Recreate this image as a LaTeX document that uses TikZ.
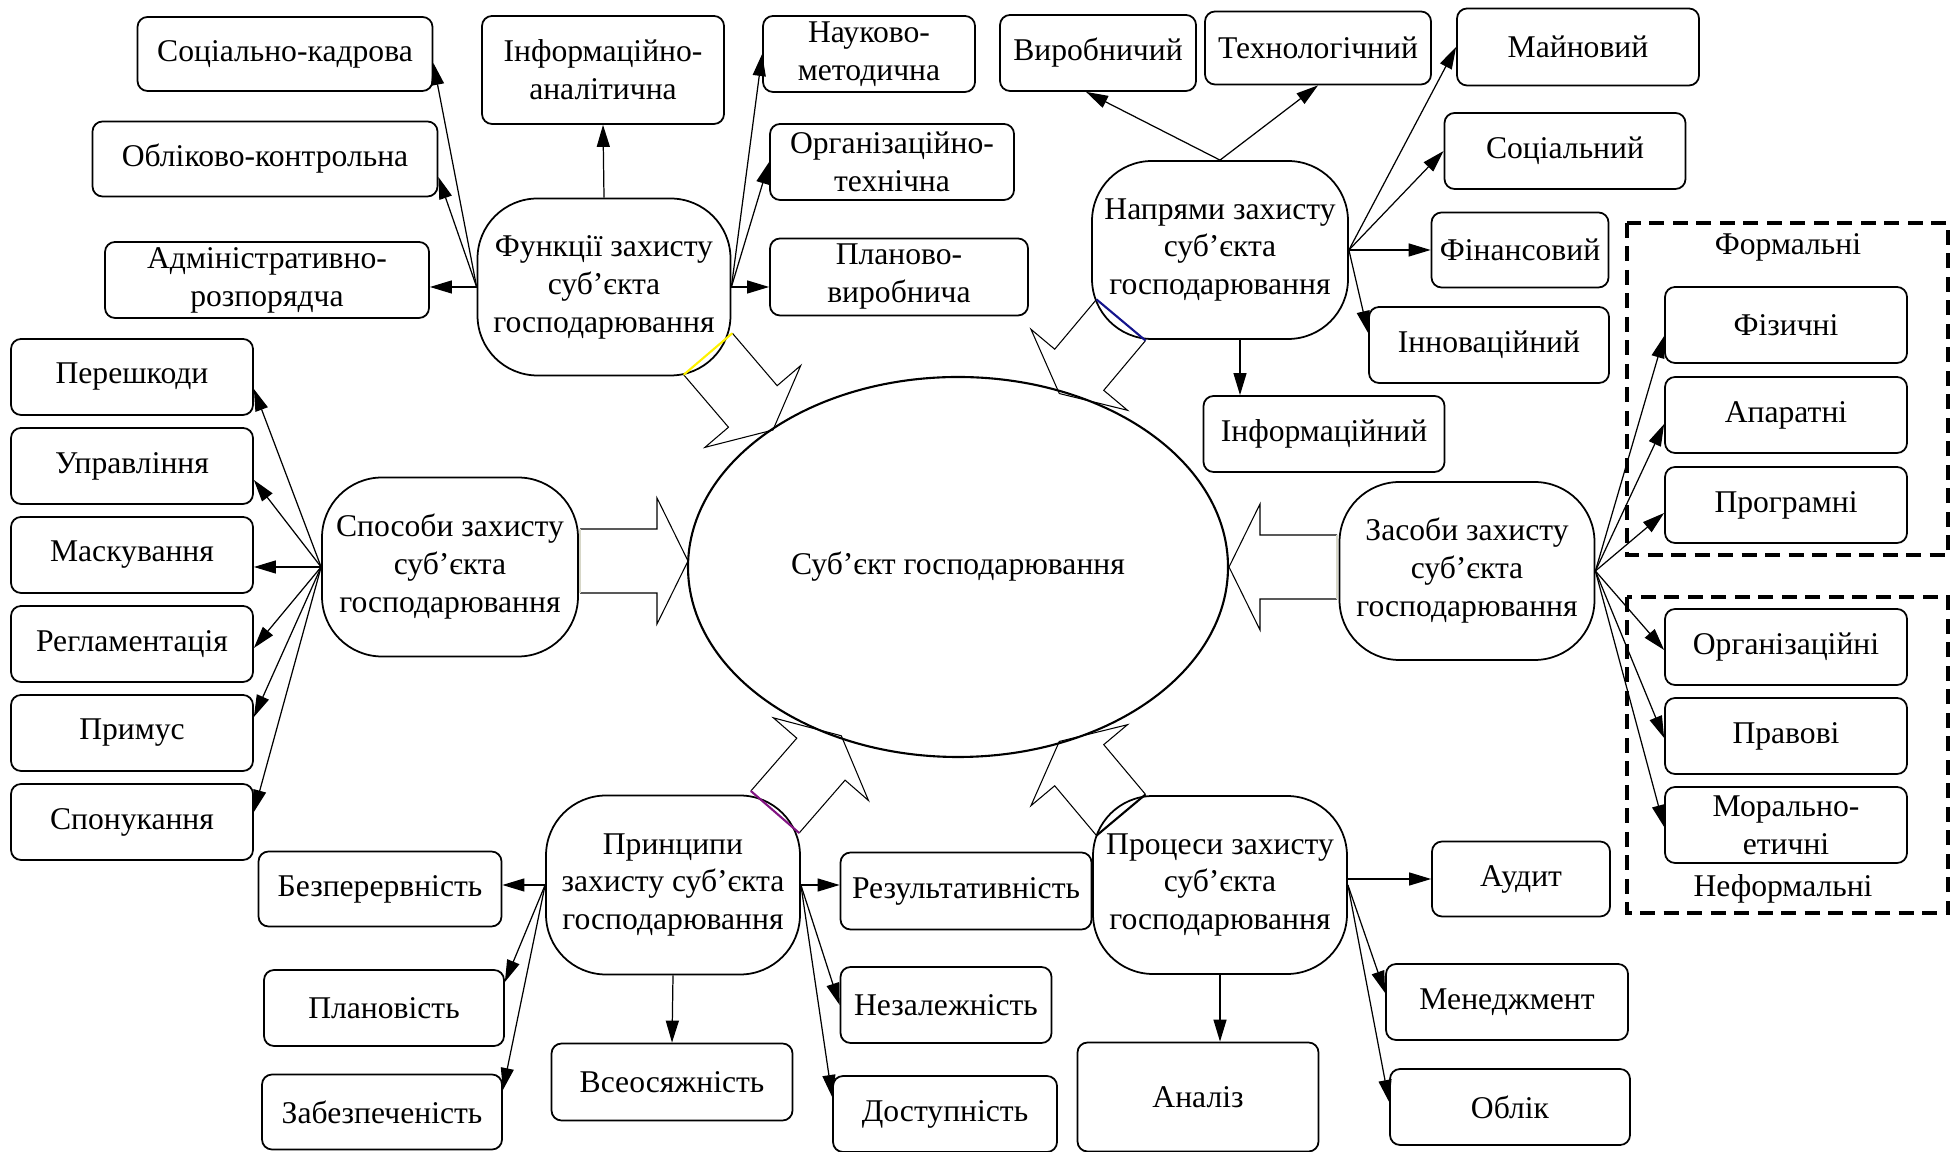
\documentclass[tikz,border=0pt]{standalone}
\usepackage{fontspec}
\setmainfont{Liberation Serif}
\usetikzlibrary{arrows.meta,shapes.geometric}

\definecolor{tailgrey}{RGB}{215,215,200}
\definecolor{tailblue}{RGB}{20,20,140}
\definecolor{tailpurple}{RGB}{130,20,130}

\tikzset{
  box/.style={draw, line width=0.5pt, rounded corners=1mm, align=center, inner sep=1pt,
    minimum width=24.2mm, minimum height=7.6mm},
  group/.style={draw, line width=0.5pt, rounded corners=6mm, align=center, inner sep=1pt,
    minimum width=25.5mm, minimum height=17.8mm},
  link/.style={->, line width=0.35pt},
  frame/.style={line width=0.9pt, dash pattern=on 1.5mm off 0.85mm},
}

% big hollow arrow: tail x, tail y, angle, length, tail colour
\newcommand\hollow[5]{%
  \begin{scope}[shift={(#1,#2)}, rotate=#3]
    \draw[line width=0.3pt] (0,32) -- (#4-31,32) -- (#4-31,63) -- (#4,0)
      -- (#4-31,-63) -- (#4-31,-32) -- (0,-32);
    \draw[#5, line width=0.6pt] (0,-32) -- (0,32);
  \end{scope}}

\begin{document}
\begin{tikzpicture}[x=0.1mm, y=-0.1mm, font=\fontsize{9}{10.8}\selectfont,
  >={Triangle[length=2.2mm,width=1.3mm]}]
\useasboundingbox (0,0) rectangle (1953,1152);

% centre
\node[draw, ellipse, line width=0.6pt, minimum width=54mm, minimum height=38mm] (subj) at (958,567) {Суб’єкт господарювання};

% functions
\node[group, minimum width=25.3mm, minimum height=17.7mm] (func) at (604,287) {Функції захисту\\суб’єкта\\господарювання};
\node[box, minimum width=29.5mm, minimum height=7.4mm] (soc) at (285,54) {Соціально-кадрова};
\node[box, minimum width=34.5mm, minimum height=7.5mm] (obl) at (265,159) {Обліково-контрольна};
\node[box, minimum width=32.4mm] (adm) at (267,280) {Адміністративно-\\розпорядча};
\node[box, minimum height=10.8mm] (inf) at (603,70) {Інформаційно-\\аналітична};
\node[box, minimum width=21.2mm] (nauk) at (869,54) {Науково-\\методична};
\node[box, minimum width=24.4mm] (org) at (892,162) {Організаційно-\\технічна};
\node[box, minimum width=25.8mm, minimum height=7.7mm] (plan) at (899,277) {Планово-\\виробнича};

\draw[link] (func.west) -- ([yshift=-0.9mm]soc.east);
\draw[link] (func.west) -- ([yshift=-1.8mm]obl.east);
\draw[link] (func.west) -- (func.west -| adm.east);
\draw[link] (func.north) -- (inf.south);
\draw[link] (func.east) -- (nauk.west);
\draw[link] (func.east) -- (org.west);
\draw[link] (func.east) -- (func.east -| plan.west);

% directions
\node[group, minimum width=25.6mm] (napr) at (1220,250) {Напрями захисту\\суб’єкта\\господарювання};
\node[box, minimum width=19.6mm] (vyr) at (1098,53) {Виробничий};
\node[box, minimum width=22.6mm, minimum height=7.3mm] (tech) at (1318,48) {Технологічний};
\node[box, minimum height=7.7mm] (mainv) at (1578,47) {Майновий};
\node[box, minimum width=24.1mm] (socl) at (1565,151) {Соціальний};
\node[box, minimum width=17.7mm, minimum height=7.5mm] (fin) at (1520,250) {Фінансовий};
\node[box, minimum width=24mm] (innov) at (1489,345) {Інноваційний};
\node[box, minimum width=24.1mm] (infm) at (1324,434) {Інформаційний};

\draw[link] (napr.north) -- ([xshift=-1.2mm]vyr.south);
\draw[link] (napr.north) -- (tech.south);
\draw[link] (napr.east) -- (mainv.west);
\draw[link] (napr.east) -- (socl.west);
\draw[link] (napr.east) -- (fin.west);
\draw[link] (napr.east) -- ([yshift=1.2mm]innov.west);
\draw[link] ([xshift=2mm]napr.south) -- ([xshift=2mm]napr.south |- infm.north);

% ways
\node[group, minimum width=25.6mm, minimum height=17.9mm] (sposoby) at (450,567) {Способи захисту\\суб’єкта\\господарювання};
\node[box] (per) at (132,377) {Перешкоди};
\node[box] (upr) at (132,466) {Управління};
\node[box] (mask) at (132,555) {Маскування};
\node[box] (regl) at (132,644) {Регламентація};
\node[box] (prym) at (132,733) {Примус};
\node[box] (spon) at (132,822) {Спонукання};

\draw[link] (sposoby.west) -- ([yshift=-1.2mm]per.east);
\draw[link] (sposoby.west) -- ([yshift=-1.4mm]upr.east);
\draw[link] (sposoby.west) -- (sposoby.west -| mask.east);
\draw[link] (sposoby.west) -- ([yshift=-0.4mm]regl.east);
\draw[link] (sposoby.west) -- ([yshift=1.6mm]prym.east);
\draw[link] (sposoby.west) -- ([yshift=1mm]spon.east);

% means
\node[group] (zasoby) at (1467,571) {Засоби захисту\\суб’єкта\\господарювання};
\draw[frame] (1627,223) rectangle (1948,555);
\draw[frame] (1627,597) rectangle (1948,913);
\node (formal) at (1788,247) {Формальні};
\node (informal) at (1783,889) {Неформальні};
\node[box] (fiz) at (1786,325) {Фізичні};
\node[box] (apar) at (1786,415) {Апаратні};
\node[box] (prog) at (1786,505) {Програмні};
\node[box] (orgn) at (1786,647) {Організаційні};
\node[box] (prav) at (1786,736) {Правові};
\node[box] (moral) at (1786,825) {Морально-\\етичні};

\draw[link] (zasoby.east) -- ([yshift=-1.1mm]fiz.west);
\draw[link] (zasoby.east) -- ([yshift=-0.9mm]apar.west);
\draw[link] (zasoby.east) -- ([yshift=-0.8mm]prog.west);
\draw[link] (zasoby.east) -- ([yshift=-0.3mm]orgn.west);
\draw[link] (zasoby.east) -- ([yshift=-0.2mm]prav.west);
\draw[link] (zasoby.east) -- ([yshift=-0.2mm]moral.west);

% principles
\node[group, minimum width=25.4mm, minimum height=17.9mm] (pryn) at (673,885) {Принципи\\захисту суб’єкта\\господарювання};
\node[box, minimum width=24.3mm, minimum height=7.5mm] (bez) at (380,889) {Безперервність};
\node[box, minimum width=24mm] (planov) at (384,1008) {Плановість};
\node[box, minimum width=24mm, minimum height=7.5mm] (zabez) at (382,1112) {Забезпеченість};
\node[box, minimum width=25.1mm, minimum height=7.7mm] (rez) at (966,891) {Результативність};
\node[box, minimum width=21.1mm] (nezal) at (946,1005) {Незалежність};
\node[box, minimum width=22.4mm] (dost) at (945,1114) {Доступність};
\node[box, minimum width=24.1mm, minimum height=7.7mm] (vseos) at (672,1082) {Всеосяжність};

\draw[link] (pryn.west) -- (pryn.west -| bez.east);
\draw[link] (pryn.west) -- ([yshift=2.6mm]planov.east);
\draw[link] (pryn.west) -- ([yshift=2.2mm]zabez.east);
\draw[link] (pryn.east) -- (pryn.east -| rez.west);
\draw[link] (pryn.east) -- (nezal.west);
\draw[link] (pryn.east) -- ([yshift=1.7mm]dost.west);
\draw[link] (pryn.south) -- (vseos.north);

% processes
\node[group, minimum width=25.4mm] (proc) at (1220,885) {Процеси захисту\\суб’єкта\\господарювання};
\node[box, minimum width=17.8mm, minimum height=7.5mm] (audyt) at (1521,879) {Аудит};
\node[box] (menedzh) at (1507,1002) {Менеджмент};
\node[box, minimum width=24mm] (oblik) at (1510,1107) {Облік};
\node[box, minimum width=24.1mm, minimum height=10.9mm] (analiz) at (1198,1097) {Аналіз};

\draw[link] ([yshift=0.6mm]proc.east) -- ([yshift=0.6mm]proc.east -| audyt.west);
\draw[link] (proc.east) -- ([yshift=0.9mm]menedzh.west);
\draw[link] (proc.east) -- ([yshift=0.5mm]oblik.west);
\draw[link] (proc.south) -- (proc.south |- analiz.north);

% hollow arrows into the centre
\hollow{580}{561}{0}{108}{tailgrey}
\hollow{1337}{567}{180}{108}{tailgrey}
\hollow{708}{354}{-49.5}{100}{yellow}
\hollow{1121}{320}{-130}{96}{tailblue}
\hollow{775}{812}{49}{101}{tailpurple}
\hollow{1121}{815}{130}{96}{black}

\end{tikzpicture}
\end{document}
